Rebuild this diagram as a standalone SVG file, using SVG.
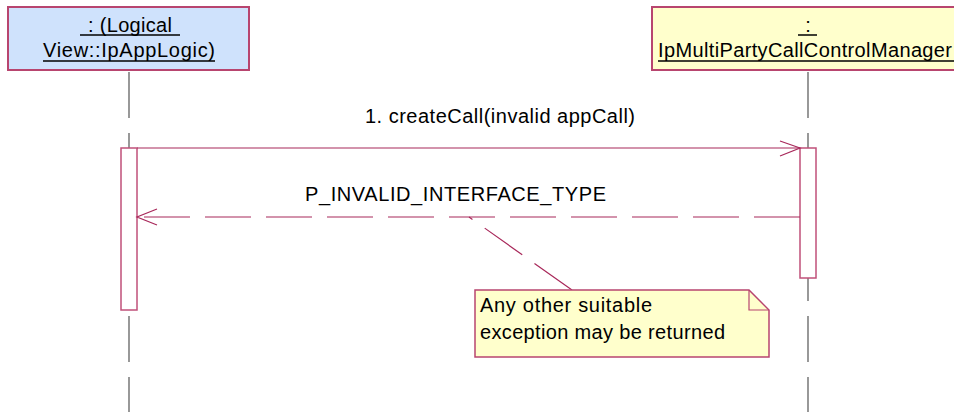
<svg xmlns="http://www.w3.org/2000/svg" width="954" height="412" viewBox="0 0 954 412">
<style>
.t{font-family:"Liberation Sans",Arial,sans-serif;font-size:20px;fill:#000}
.box{stroke:#b8456f;stroke-width:2}
.ul{stroke:#000;stroke-width:1.5}
.life{stroke:#555;stroke-width:1.2;stroke-dasharray:46 15;fill:none}
.act{fill:#fff;stroke:#c0507a;stroke-width:1.5}
.msg{stroke:#a8285a;stroke-width:1.2;fill:none}
.dash{stroke-dasharray:46 15}
</style>
<rect width="954" height="412" fill="#fff"/>
<g id="lifelines">
<line class="life" x1="129" y1="72" x2="129" y2="412"/>
<line class="life" x1="808" y1="72" x2="808" y2="412"/>
</g>
<g id="obj-applogic">
<rect class="box" x="8" y="7" width="241" height="63" fill="#cfe2fc"/>
<text class="t" x="88" y="32" textLength="84" lengthAdjust="spacing">: (Logical</text>
<line class="ul" x1="80" y1="35" x2="180" y2="35"/>
<text class="t" x="129" y="57" text-anchor="middle" textLength="172" lengthAdjust="spacing">View::IpAppLogic)</text>
<line class="ul" x1="43" y1="61" x2="215" y2="61"/>
</g>
<g id="obj-manager">
<rect class="box" x="652" y="7" width="320" height="63" fill="#ffffcc"/>
<text class="t" x="808" y="32" text-anchor="middle">:</text>
<line class="ul" x1="798" y1="35" x2="817" y2="35"/>
<text class="t" x="658" y="57" textLength="294" lengthAdjust="spacing">IpMultiPartyCallControlManager</text>
<line class="ul" x1="658" y1="61" x2="954" y2="61"/>
</g>
<g id="act-left"><rect class="act" x="121" y="148" width="16" height="162"/></g>
<g id="act-right"><rect class="act" x="800" y="148" width="16" height="130"/></g>
<g id="connectors">
<line class="msg" x1="137" y1="148" x2="800" y2="148"/>
<polyline class="msg" points="780,141 800,148 780,156"/>
<line class="msg dash" x1="800" y1="217" x2="137" y2="217"/>
<polyline class="msg" points="157,209 137,217 157,225"/>
<line class="msg dash" x1="572" y1="290" x2="469" y2="217"/>
</g>
<g id="labels">
<text class="t" x="365" y="123" textLength="270" lengthAdjust="spacing">1. createCall(invalid appCall)</text>
<text class="t" x="305" y="201" textLength="301" lengthAdjust="spacing">P_INVALID_INTERFACE_TYPE</text>
</g>
<g id="note">
<polygon points="475,290 749,290 769,310 769,357 475,357" fill="#ffffcc" stroke="#b8456f" stroke-width="1.5"/>
<polyline points="749,290 749,310 769,310" fill="none" stroke="#b8456f" stroke-width="1.2"/>
<text class="t" x="480" y="312" textLength="172" lengthAdjust="spacing">Any other suitable</text>
<text class="t" x="480" y="339" textLength="245" lengthAdjust="spacing">exception may be returned</text>
</g>
</svg>
